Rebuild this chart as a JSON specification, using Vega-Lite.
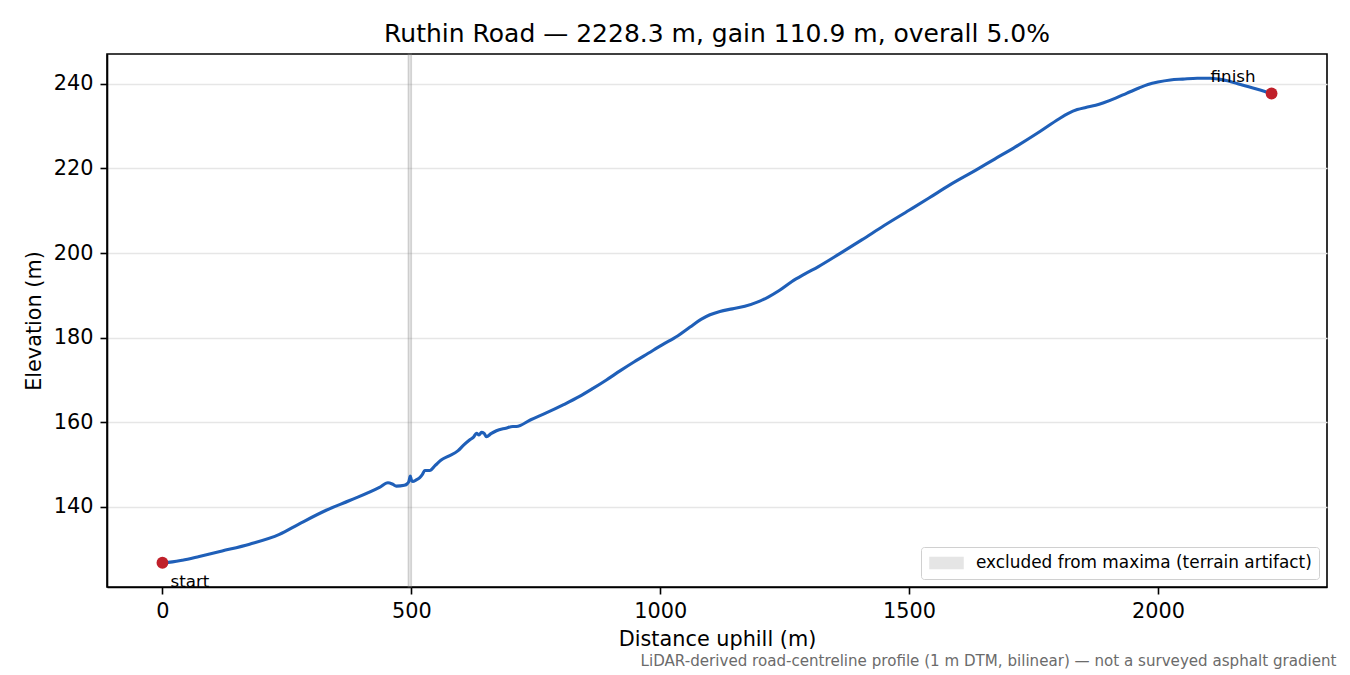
{
  "$schema": "https://vega.github.io/schema/vega-lite/v6.json",
  "width": 1220,
  "height": 533,
  "autosize": {"type": "none"},
  "padding": {"left": 107, "top": 54, "right": 23, "bottom": 88},
  "background": "white",
  "title": {
    "text": "Ruthin Road — 2228.3 m, gain 110.9 m, overall 5.0%",
    "fontSize": 25,
    "fontWeight": "normal",
    "color": "black",
    "baseline": "alphabetic",
    "offset": 12,
    "dy": 26,
    "anchor": "middle"
  },
  "datasets": {
    "profile": [
      {"d": 0, "e": 126.8},
      {"d": 20, "e": 127.0},
      {"d": 40, "e": 127.4},
      {"d": 74, "e": 128.3},
      {"d": 120, "e": 129.6},
      {"d": 175, "e": 131.2},
      {"d": 235, "e": 133.5},
      {"d": 275, "e": 136.0},
      {"d": 329, "e": 139.2},
      {"d": 376, "e": 141.5},
      {"d": 436, "e": 144.6},
      {"d": 453, "e": 145.7},
      {"d": 462, "e": 145.4},
      {"d": 470, "e": 144.9},
      {"d": 486, "e": 145.1},
      {"d": 492, "e": 145.5},
      {"d": 495, "e": 146.0},
      {"d": 498, "e": 147.3},
      {"d": 500, "e": 146.4},
      {"d": 503, "e": 146.0},
      {"d": 510, "e": 146.4},
      {"d": 517, "e": 146.9},
      {"d": 522, "e": 147.6},
      {"d": 527, "e": 148.6},
      {"d": 537, "e": 148.6},
      {"d": 548, "e": 149.8},
      {"d": 560, "e": 151.1},
      {"d": 575, "e": 152.0},
      {"d": 594, "e": 153.3},
      {"d": 605, "e": 154.6},
      {"d": 617, "e": 155.8},
      {"d": 625, "e": 156.5},
      {"d": 631, "e": 157.4},
      {"d": 636, "e": 157.0},
      {"d": 641, "e": 157.6},
      {"d": 646, "e": 157.4},
      {"d": 651, "e": 156.6},
      {"d": 660, "e": 157.3},
      {"d": 671, "e": 158.0},
      {"d": 690, "e": 158.6},
      {"d": 704, "e": 159.0},
      {"d": 711, "e": 159.0},
      {"d": 740, "e": 160.6},
      {"d": 771, "e": 162.2},
      {"d": 805, "e": 164.1},
      {"d": 838, "e": 166.1},
      {"d": 865, "e": 168.0},
      {"d": 892, "e": 170.0},
      {"d": 920, "e": 172.2},
      {"d": 948, "e": 174.3},
      {"d": 976, "e": 176.3},
      {"d": 1004, "e": 178.3},
      {"d": 1035, "e": 180.4},
      {"d": 1060, "e": 182.5},
      {"d": 1082, "e": 184.3},
      {"d": 1100, "e": 185.4},
      {"d": 1120, "e": 186.2},
      {"d": 1145, "e": 186.8},
      {"d": 1170, "e": 187.4},
      {"d": 1195, "e": 188.4},
      {"d": 1217, "e": 189.6},
      {"d": 1240, "e": 191.2},
      {"d": 1264, "e": 193.2},
      {"d": 1290, "e": 195.0},
      {"d": 1318, "e": 196.8},
      {"d": 1360, "e": 199.8},
      {"d": 1405, "e": 203.1},
      {"d": 1450, "e": 206.5},
      {"d": 1500, "e": 210.1},
      {"d": 1540, "e": 213.0},
      {"d": 1582, "e": 216.1},
      {"d": 1636, "e": 219.7},
      {"d": 1672, "e": 222.2},
      {"d": 1710, "e": 224.8},
      {"d": 1763, "e": 228.7},
      {"d": 1800, "e": 231.6},
      {"d": 1820, "e": 233.0},
      {"d": 1838, "e": 233.9},
      {"d": 1855, "e": 234.4},
      {"d": 1875, "e": 234.9},
      {"d": 1891, "e": 235.5},
      {"d": 1915, "e": 236.6},
      {"d": 1938, "e": 237.8},
      {"d": 1962, "e": 239.0},
      {"d": 1980, "e": 239.8},
      {"d": 2000, "e": 240.4},
      {"d": 2025, "e": 240.9},
      {"d": 2050, "e": 241.1},
      {"d": 2079, "e": 241.3},
      {"d": 2105, "e": 241.3},
      {"d": 2122, "e": 241.1},
      {"d": 2140, "e": 240.7},
      {"d": 2166, "e": 239.8},
      {"d": 2200, "e": 238.7},
      {"d": 2228.3, "e": 237.7}
    ],
    "ends": [
      {"d": 0, "e": 126.8, "label": "start"},
      {"d": 2228.3, "e": 237.7, "label": "finish"}
    ],
    "excluded": [
      {"from": 494, "to": 500, "what": "excluded from maxima (terrain artifact)"}
    ]
  },
  "resolve": {"scale": {"x": "independent"}, "axis": {"x": "independent"}},
  "layer": [
    {
      "data": {"name": "excluded"},
      "mark": {"type": "rect", "fillOpacity": 0.2, "stroke": "#808080", "strokeOpacity": 0.3, "strokeWidth": 1.5},
      "encoding": {
        "x": {
          "field": "from",
          "type": "quantitative",
          "scale": {"domain": [-111.4, 2339.7], "nice": false, "zero": false},
          "axis": {
            "orient": "bottom",
            "title": "LiDAR-derived road-centreline profile (1 m DTM, bilinear) — not a surveyed asphalt gradient",
            "labels": false,
            "ticks": false,
            "domain": false,
            "grid": false,
            "titleX": 1229,
            "titleY": 78,
            "titleAlign": "right",
            "titleBaseline": "alphabetic",
            "titleFontSize": 15.1,
            "titleFontWeight": "normal",
            "titleColor": "#6b6b6b"
          }
        },
        "x2": {"field": "to"},
        "color": {
          "field": "what",
          "type": "nominal",
          "scale": {"range": ["#808080"]},
          "legend": {
            "title": null,
            "orient": "bottom-right",
            "offset": 8,
            "padding": 6.5,
            "cornerRadius": 3,
            "strokeColor": "#d0d0d0",
            "fillColor": "rgba(255,255,255,0.8)",
            "symbolType": "M-1.94,-0.65L1.94,-0.65L1.94,0.65L-1.94,0.65Z",
            "symbolSize": 289,
            "symbolOpacity": 0.2,
            "symbolStrokeColor": "#808080",
            "symbolStrokeWidth": 1.5,
            "symbolOffset": 9.5,
            "labelFontSize": 16.9,
            "labelColor": "black",
            "labelOffset": 20,
            "labelLimit": 600
          }
        }
      }
    },
    {
      "encoding": {
        "x": {
          "field": "d",
          "type": "quantitative",
          "scale": {"domain": [-111.4, 2339.7], "nice": false, "zero": false},
          "axis": {
            "orient": "bottom",
            "title": "Distance uphill (m)",
            "values": [0, 500, 1000, 1500, 2000],
            "format": "d",
            "titlePadding": 9
          }
        },
        "y": {
          "field": "e",
          "type": "quantitative",
          "scale": {"domain": [121.07, 247.03], "nice": false, "zero": false},
          "axis": {
            "title": "Elevation (m)",
            "values": [140, 160, 180, 200, 220, 240],
            "titlePadding": 9
          }
        }
      },
      "layer": [
        {
          "data": {"name": "profile"},
          "mark": {"type": "line", "color": "#1f5fb8", "strokeWidth": 3.1, "interpolate": "monotone"}
        },
        {
          "data": {"name": "ends"},
          "mark": {"type": "circle", "color": "#c0202a", "opacity": 1, "size": 140}
        },
        {
          "data": {"name": "ends"},
          "transform": [{"filter": "datum.label === 'start'"}],
          "mark": {"type": "text", "align": "left", "baseline": "alphabetic", "dx": 8, "dy": 24, "fontSize": 16.7, "color": "black"},
          "encoding": {"text": {"field": "label"}}
        },
        {
          "data": {"name": "ends"},
          "transform": [{"filter": "datum.label === 'finish'"}],
          "mark": {"type": "text", "align": "right", "baseline": "alphabetic", "dx": -16, "dy": -11.6, "fontSize": 16.7, "color": "black"},
          "encoding": {"text": {"field": "label"}}
        }
      ]
    }
  ],
  "config": {
    "font": "DejaVu Sans",
    "view": {"stroke": "black", "strokeWidth": 1.6},
    "axis": {
      "domainColor": "black",
      "domainWidth": 1.6,
      "tickColor": "black",
      "tickWidth": 1.6,
      "tickSize": 7,
      "labelPadding": 7,
      "labelFontSize": 20.8,
      "labelColor": "black",
      "titleFontSize": 20.8,
      "titleFontWeight": "normal",
      "titleColor": "black",
      "grid": true,
      "gridColor": "#e6e6e6",
      "gridWidth": 1.6
    }
  }
}
